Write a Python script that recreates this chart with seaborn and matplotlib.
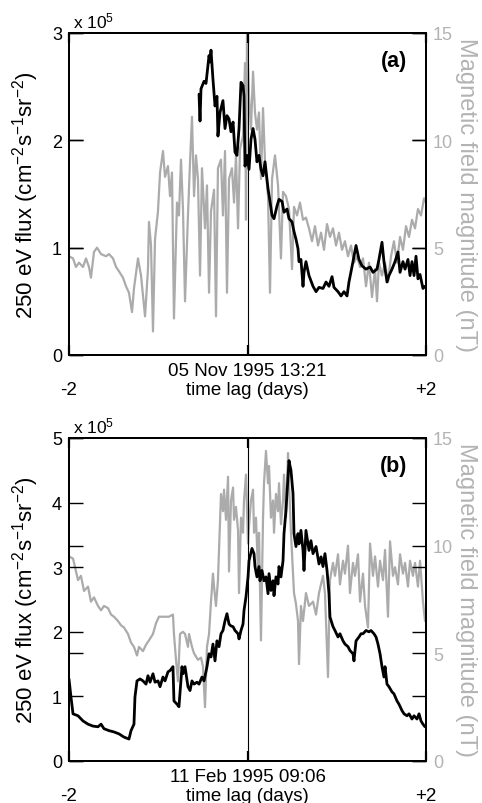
import numpy as np
import pandas as pd
import matplotlib
matplotlib.use("Agg")
import matplotlib.pyplot as plt
import seaborn as sns

# ---------------- panel (a): 05 Nov 1995 13:21 ----------------
# magnetic field magnitude (nT), time lag in days
t_a_B = [-2.000, -1.955, -1.922, -1.888, -1.843, -1.810, -1.776, -1.754, -1.720, -1.686,
         -1.641, -1.585, -1.552, -1.507, -1.473, -1.440, -1.395, -1.361, -1.328, -1.294,
         -1.272, -1.227, -1.193, -1.148, -1.115, -1.104, -1.081, -1.059, -1.036, -1.003,
         -0.980, -0.947, -0.924, -0.891, -0.868, -0.846, -0.824, -0.790, -0.768, -0.745,
         -0.723, -0.700, -0.667,
         -0.644, -0.622, -0.599, -0.577, -0.555, -0.532, -0.510, -0.476, -0.454, -0.431,
         -0.409, -0.375, -0.353, -0.331, -0.297, -0.275, -0.252, -0.230, -0.207, -0.174,
         -0.151, -0.129, -0.106, -0.084, -0.050, -0.028, -0.017, -0.006, 0.017, 0.039,
         0.062, 0.084, 0.106, 0.129, 0.151, 0.174, 0.196, 0.230, 0.252, 0.275,
         0.308, 0.342, 0.375, 0.398, 0.431, 0.465, 0.499, 0.521, 0.555, 0.588,
         0.622, 0.655, 0.689, 0.723, 0.756, 0.790, 0.824, 0.857, 0.891, 0.924,
         0.958, 0.992, 1.025, 1.059, 1.092, 1.126, 1.160, 1.193, 1.227, 1.261,
         1.294, 1.328, 1.361, 1.395, 1.429, 1.451, 1.473, 1.507, 1.541, 1.574,
         1.608, 1.641, 1.675, 1.709, 1.742, 1.776, 1.810, 1.843, 1.877, 1.910,
         1.944, 1.978, 2.000]
B_a = [4.6, 4.5, 4.1, 4.3, 4.1, 4.5, 4.1, 3.6, 4.8, 5.0,
       4.7, 4.6, 4.7, 4.5, 4.1, 3.9, 3.6, 3.2, 2.9, 2.0,
       3.1, 4.5, 3.7, 1.8, 4.0, 6.2, 5.1, 1.1, 5.4, 6.7,
       8.5, 9.5, 8.3, 8.8, 7.4, 8.5, 1.7, 7.1, 6.5, 9.1,
       6.8, 2.5, 6.5,
       9.0, 11.1, 7.4, 9.3, 8.2, 3.7, 8.7, 5.9, 7.9, 2.9,
       6.7, 7.7, 1.8, 8.7, 9.1, 6.5, 9.5, 2.9, 8.2, 8.7,
       7.1, 9.3, 5.9, 9.6, 10.2, 13.6, 6.3, 15.0, 12.1, 10.5,
       13.2, 11.3, 10.5, 11.3, 8.2, 11.5, 9.0, 7.4, 2.9, 8.2,
       9.3, 7.9, 4.5, 7.6, 7.4, 6.8, 4.0, 6.9, 6.5, 7.1,
       6.3, 6.4, 5.9, 5.3, 6.0, 5.1, 5.7, 4.9, 6.1, 5.5,
       5.9, 5.1, 5.7, 4.9, 5.3, 4.6, 5.1, 4.3, 4.6, 4.1,
       4.5, 3.2, 4.3, 2.7, 4.0, 2.5, 4.3, 3.7, 4.3, 3.4,
       4.6, 5.3, 4.3, 5.5, 4.9, 6.0, 5.5, 6.3, 5.9, 6.8,
       6.5, 7.3, 7.1]

# 250 eV flux in units of 1e5 cm^-2 s^-1 sr^-2
t_a_F = [-0.543, -0.532, -0.521, -0.487, -0.465, -0.431, -0.420, -0.409, -0.387, -0.364,
         -0.342, -0.331, -0.308, -0.275, -0.252, -0.230, -0.207, -0.185, -0.162, -0.140,
         -0.118, -0.095, -0.073, -0.050, -0.039, -0.028, -0.006, 0.017, 0.039, 0.062,
         0.084, 0.106, 0.129, 0.151, 0.174, 0.196, 0.230, 0.252, 0.275, 0.297,
         0.331, 0.353, 0.387, 0.409, 0.443, 0.465, 0.499, 0.521, 0.543, 0.566,
         0.577, 0.599, 0.622, 0.633, 0.655, 0.689, 0.734, 0.768, 0.801, 0.846,
         0.880, 0.913, 0.947, 0.969, 1.014, 1.048, 1.081, 1.115, 1.137, 1.182,
         1.216, 1.249, 1.283, 1.328, 1.373, 1.406, 1.451, 1.473, 1.507, 1.529,
         1.563, 1.585, 1.619, 1.653, 1.686, 1.709, 1.742, 1.765, 1.798, 1.821,
         1.843, 1.866, 1.888, 1.910, 1.933, 1.966, 1.989]
F_a = [2.43, 2.18, 2.48, 2.55, 2.53, 2.79, 2.73, 2.84, 2.57, 2.32,
       2.41, 2.04, 2.26, 2.37, 2.11, 2.23, 2.20, 2.08, 2.17, 1.89,
       1.86, 2.11, 2.54, 2.51, 2.41, 1.76, 1.86, 1.73, 2.01, 2.11,
       2.01, 1.80, 1.86, 1.73, 1.67, 1.80, 1.55, 1.43, 1.30, 1.27,
       1.39, 1.45, 1.43, 1.33, 1.36, 1.27, 1.24, 1.15, 1.08, 0.99,
       0.87, 0.89, 0.64, 0.77, 0.87, 0.74, 0.64, 0.59, 0.63, 0.62,
       0.68, 0.64, 0.73, 0.63, 0.59, 0.55, 0.59, 0.55, 0.68, 0.87,
       1.02, 0.89, 0.83, 0.80, 0.82, 0.77, 0.80, 0.89, 1.05, 0.87,
       0.68, 0.74, 0.80, 0.87, 0.96, 0.77, 0.87, 0.80, 0.89, 0.74,
       0.87, 0.74, 0.92, 0.71, 0.75, 0.62, 0.64]

# ---------------- panel (b): 11 Feb 1995 09:06 ----------------
t_b_B = [-2.000, -1.955, -1.933, -1.899, -1.866, -1.832, -1.787, -1.754, -1.720, -1.675,
         -1.641, -1.608, -1.563, -1.529, -1.496, -1.451, -1.417, -1.384, -1.339, -1.305,
         -1.272, -1.238, -1.216, -1.171, -1.137, -1.104, -1.059, -1.025, -0.992, -0.947,
         -0.913, -0.880, -0.835, -0.824, -0.801, -0.779, -0.756, -0.723, -0.700, -0.667,
         -0.655, -0.622, -0.599, -0.555, -0.521, -0.499, -0.476, -0.454, -0.431, -0.409,
         -0.387, -0.375, -0.353, -0.331, -0.319, -0.297, -0.275, -0.263, -0.241, -0.218,
         -0.207, -0.185, -0.162, -0.151, -0.129, -0.106, -0.095, -0.073, -0.050, -0.039,
         -0.017, 0.006, 0.017, 0.039, 0.062, 0.073, 0.095, 0.118, 0.129, 0.151,
         0.174, 0.185, 0.207, 0.230, 0.241, 0.263, 0.286, 0.297, 0.319, 0.342,
         0.353, 0.375, 0.398, 0.409, 0.431, 0.454, 0.465, 0.487, 0.510, 0.521,
         0.543, 0.566, 0.577, 0.599, 0.622,
         0.655, 0.689, 0.734, 0.768, 0.801, 0.846, 0.868, 0.902, 0.924, 0.958,
         0.980, 1.014, 1.036, 1.070, 1.092, 1.126, 1.148, 1.182, 1.204, 1.238,
         1.261, 1.294, 1.317, 1.350, 1.373, 1.406, 1.429, 1.462, 1.485, 1.518,
         1.541, 1.574, 1.597, 1.630, 1.653, 1.686, 1.709, 1.742, 1.765, 1.798,
         1.821, 1.854, 1.877, 1.910, 1.933, 1.966, 1.989]
B_b = [9.5, 9.4, 9.0, 8.4, 8.6, 7.9, 8.1, 7.4, 7.6, 7.2,
       7.0, 7.2, 7.1, 6.8, 6.7, 6.5, 6.3, 6.2, 5.9, 5.5,
       5.3, 4.9, 5.3, 5.1, 5.4, 5.6, 5.9, 6.4, 6.7, 6.7,
       6.7, 6.7, 6.8, 5.9, 4.7, 3.7, 5.9, 6.0, 5.9, 5.3,
       5.9, 5.3, 5.0, 4.7, 4.8, 4.4, 2.5, 5.3, 5.9, 7.4,
       8.7, 8.1, 7.2, 8.4, 9.8, 12.4, 11.6, 12.6, 11.2, 13.2,
       8.8, 12.1, 12.7, 11.2, 11.8, 10.7, 7.8, 11.3, 10.6, 12.1,
       13.3, 10.1, 10.9, 12.1, 12.6, 10.6, 11.3, 8.7, 10.6, 5.6,
       11.3, 12.9, 14.4, 12.9, 13.7, 11.3, 12.1, 10.6, 12.4, 11.6,
       12.9, 11.0, 12.1, 13.3, 11.3, 14.3, 12.9, 10.6, 8.7, 7.8,
       7.3, 6.5, 4.5, 7.2, 6.5,
       7.8, 7.2, 7.4, 6.8, 7.8, 8.6, 7.8, 3.9, 8.4, 9.2,
       8.6, 9.6, 8.2, 9.3, 8.7, 10.0, 7.8, 9.2, 8.6, 9.6,
       7.4, 8.7, 7.2, 6.2, 10.1, 8.6, 9.5, 8.1, 9.3, 8.4,
       9.8, 6.7, 10.2, 8.6, 9.0, 8.2, 9.6, 8.7, 9.2, 8.1,
       9.3, 8.6, 9.2, 8.1, 9.3, 7.4, 6.5]

t_b_F = [-2.000, -1.978, -1.955, -1.899, -1.843, -1.787, -1.731, -1.675, -1.641, -1.608,
         -1.552, -1.496, -1.440, -1.384, -1.328, -1.305, -1.272, -1.261, -1.238, -1.204,
         -1.171, -1.137, -1.115, -1.092, -1.059, -1.036, -1.003, -0.980, -0.947, -0.924,
         -0.891, -0.868, -0.835, -0.824, -0.790, -0.768, -0.734, -0.723, -0.700, -0.667,
         -0.644, -0.622, -0.599, -0.566, -0.543, -0.510, -0.487, -0.454, -0.431, -0.409,
         -0.387, -0.364, -0.342, -0.319, -0.297, -0.275, -0.252, -0.230, -0.207, -0.185,
         -0.162, -0.140, -0.106, -0.095, -0.073, -0.050, -0.039, -0.017, 0.006, 0.017,
         0.050, 0.073, 0.084, 0.106, 0.129, 0.140, 0.162, 0.185, 0.207, 0.230,
         0.241, 0.263, 0.286, 0.297, 0.319, 0.342, 0.353, 0.375, 0.398, 0.409,
         0.431, 0.454, 0.465, 0.476, 0.487, 0.510, 0.521, 0.543, 0.566, 0.577,
         0.599, 0.622, 0.633, 0.655, 0.689,
         0.711, 0.734, 0.768, 0.801, 0.824, 0.846, 0.868, 0.891, 0.913, 0.924,
         0.958, 0.980, 1.014, 1.036, 1.070, 1.092, 1.126, 1.148, 1.182, 1.193,
         1.216, 1.249, 1.272, 1.294, 1.328, 1.361, 1.384, 1.417, 1.440, 1.462,
         1.485, 1.507, 1.529, 1.541, 1.563, 1.585, 1.619, 1.641, 1.675, 1.697,
         1.731, 1.754, 1.787, 1.810, 1.843, 1.866, 1.899, 1.922, 1.944, 1.966,
         1.989]
F_b = [1.27, 0.99, 0.73, 0.70, 0.62, 0.57, 0.54, 0.53, 0.57, 0.50,
       0.47, 0.45, 0.42, 0.37, 0.34, 0.47, 0.57, 0.99, 1.24, 1.27,
       1.24, 1.19, 1.32, 1.22, 1.35, 1.22, 1.24, 1.15, 1.30, 1.24,
       1.38, 1.40, 1.46, 0.93, 0.88, 0.84, 1.46, 1.35, 1.46, 1.15,
       1.09, 1.24, 1.19, 1.22, 1.19, 1.30, 1.24, 1.46, 1.66, 1.61,
       1.81, 1.55, 1.86, 1.77, 1.97, 2.02, 2.17, 2.28, 2.12, 2.09,
       2.08, 2.02, 1.97, 1.89, 2.02, 2.12, 2.33, 2.54, 2.85, 3.10,
       3.29, 3.21, 3.01, 2.85, 3.01, 2.79, 2.95, 2.79, 2.85, 2.59,
       2.90, 2.64, 2.79, 2.56, 2.85, 2.74, 3.01, 2.85, 3.10, 3.52,
       3.88, 4.40, 4.65, 4.57, 4.50, 4.14, 3.52, 3.32, 3.52, 3.36,
       3.57, 3.26, 2.95, 3.57, 3.26,
       3.41, 3.21, 3.32, 3.05, 3.16, 3.01, 3.21, 2.95, 2.59, 2.23,
       2.08, 2.02, 1.92, 1.97, 1.86, 1.81, 1.77, 1.71, 1.66, 1.55,
       1.86, 1.92, 1.97, 1.97, 2.02, 2.00, 2.02, 1.97, 1.92, 1.81,
       1.66, 1.46, 1.30, 1.46, 1.19, 1.15, 1.07, 1.04, 0.93, 0.88,
       0.78, 0.73, 0.70, 0.73, 0.65, 0.70, 0.65, 0.73, 0.62, 0.57,
       0.53]

panel_tags = ["(a)", "(b)"]
panel_dates = ["05 Nov 1995 13:21", "11 Feb 1995 09:06"]
flux_ticks = [[0, 1, 2, 3], [0, 1, 2, 3, 4, 5]]
field_ticks = [0, 5, 10, 15]
x_tick_vals = [-2, 0, 2]
x_tick_labels = ["-2", "", "+2"]

# ---------------- styling ----------------
sns.set_theme(style="white")
plt.rcParams["font.family"] = ["Liberation Sans", "DejaVu Sans"]
plt.rcParams["mathtext.fontset"] = "custom"
plt.rcParams["mathtext.rm"] = "Liberation Sans"
plt.rcParams["mathtext.it"] = "Liberation Sans:italic"
plt.rcParams["mathtext.bf"] = "Liberation Sans:bold"

GRAY_LINE = "#ababab"
GRAY_TEXT = "#b3b3b3"

W, H = 482, 804
fig = plt.figure(figsize=(W / 100, H / 100), dpi=100)

positions = [
    [69 / W, (H - 356) / H, 357 / W, 322 / H],
    [69 / W, (H - 762) / H, 357 / W, 323 / H],
]
series = [(t_a_B, B_a, t_a_F, F_a), (t_b_B, B_b, t_b_F, F_b)]

for i in range(2):
    tB, Bv, tF, Fv = series[i]
    dfB = pd.DataFrame({"t": tB, "B": Bv})
    dfF = pd.DataFrame({"t": tF, "F": Fv})

    ax = fig.add_axes(positions[i])
    ax2 = ax.twinx()

    sns.lineplot(data=dfB, x="t", y="B", ax=ax2, color=GRAY_LINE, lw=1.6,
                 estimator=None, sort=False)
    sns.lineplot(data=dfF, x="t", y="F", ax=ax, color="black", lw=2.0,
                 estimator=None, sort=False)
    ax.set_zorder(ax2.get_zorder() + 1)
    ax.patch.set_visible(False)
    ax.axvline(0, color="black", lw=0.8, zorder=5)

    ax.set_xlim(-2, 2)
    ax.set_ylim(0, flux_ticks[i][-1])
    ax2.set_ylim(0, 15)

    ax.set_xticks(x_tick_vals)
    ax.set_xticklabels(x_tick_labels)
    ax.tick_params(axis="x", direction="in", top=True, bottom=True, length=7,
                   width=1.6, color="black", pad=19, labelsize=13.5, labelcolor="black")
    ax.set_yticks(flux_ticks[i])
    ax.tick_params(axis="y", direction="in", left=True, right=True, length=10,
                   width=1.0, color="black", pad=5, labelsize=13, labelcolor="black",
                   labelleft=True, labelright=False)
    ax2.set_yticks(field_ticks)
    ax2.tick_params(axis="y", direction="in", left=True, right=True, length=10,
                    width=1.0, color="black", pad=5, labelsize=13, labelcolor=GRAY_TEXT,
                    labelleft=False, labelright=True)

    for a in (ax, ax2):
        for s in a.spines.values():
            s.set_color("black")
            s.set_linewidth(1.4)
            s.set_visible(True)

    ax.set_xlabel("")
    ax.set_ylabel(r"250 eV flux (cm$^{-2}$s$^{-1}$sr$^{-2}$)", fontsize=16, labelpad=8,
                  color="black")
    ax2.set_ylabel("Magnetic field magnitude (nT)", fontsize=17, rotation=270,
                   labelpad=17, color=GRAY_TEXT)

    ax.text(0.01, 1.008, r"x 10$^5$", transform=ax.transAxes, ha="left", va="bottom",
            fontsize=12.5, color="black")
    ax.text(0.91, 0.915, panel_tags[i], transform=ax.transAxes, ha="center", va="center",
            fontsize=15.5, fontweight="bold", color="black")
    ax.annotate(panel_dates[i], xy=(0, 0), xycoords=("data", "axes fraction"),
                xytext=(0, -11), textcoords="offset points", ha="center", va="center",
                fontsize=13.5, color="black")
    ax.annotate("time lag (days)", xy=(0, 0), xycoords=("data", "axes fraction"),
                xytext=(0, -24.5), textcoords="offset points", ha="center", va="center",
                fontsize=13.5, color="black")

fig.savefig("out.png", dpi=100)
